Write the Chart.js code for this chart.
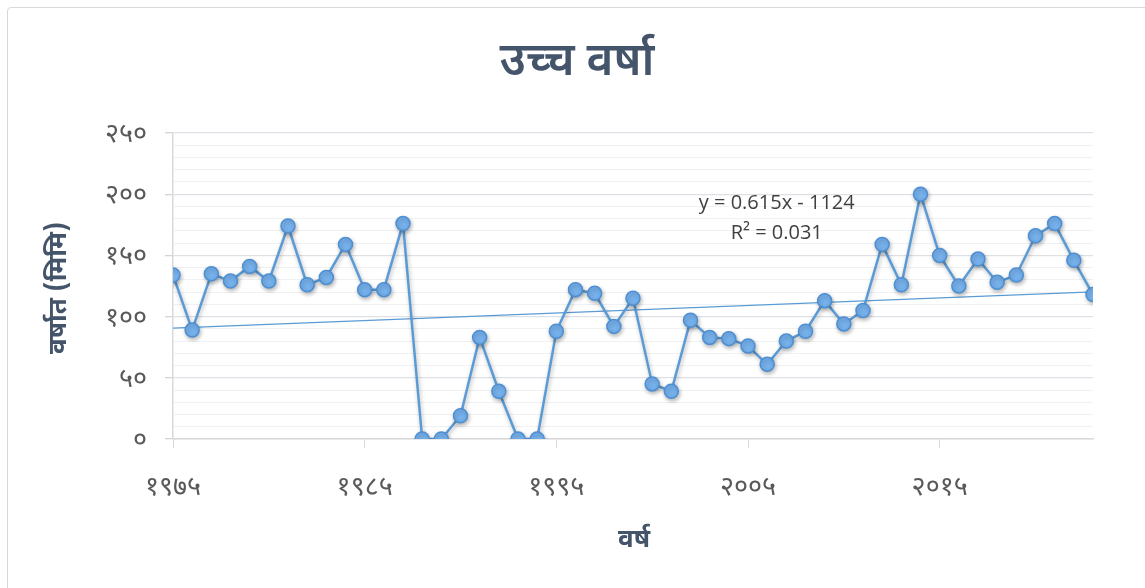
<!DOCTYPE html>
<html><head><meta charset="utf-8">
<script src="https://cdn.jsdelivr.net/npm/chart.js@4.4.1/dist/chart.umd.min.js"></script>
<style>
html,body{margin:0;padding:0;background:#fff;overflow:hidden}
#wrap{position:absolute;left:0;top:0;width:1145px;height:588px}
#frame{position:absolute;left:7px;top:7px;width:1160px;height:600px;border:1px solid #d9d9d9;border-radius:4px;box-sizing:border-box}
canvas{position:absolute;left:0;top:0}
</style></head>
<body><div id="wrap"><div id="frame"></div><canvas id="c" width="1145" height="588"></canvas></div>
<script>
const years = [1975,1976,1977,1978,1979,1980,1981,1982,1983,1984,1985,1986,1987,1988,1989,1990,1991,1992,1993,1994,1995,1996,1997,1998,1999,2000,2001,2002,2003,2004,2005,2006,2007,2008,2009,2010,2011,2012,2013,2014,2015,2016,2017,2018,2019,2020,2021,2022,2023];
const rainfall = [134,89,135,129,141,129,174,126,132,159,122,122,176,0,0,19,83,39,0,0,88,122,119,92,115,45,39,97,83,82,76,61,80,88,113,94,105,159,126,200,150,125,147,128,134,166,176,146,118];
const trendSlope = 0.615;
const trendIntercept = -1124;
const trendText = ["y = 0.615x - 1124", "R² = 0.031"];
const titleText = "उच्च वर्षा";
const yTitle = "वर्षात (मिमि)";
const xTitle = "वर्ष";
const xTickYears = [1975,1985,1995,2005,2015];
const yTicks = [0,50,100,150,200,250];

const devDigits = ['०','१','२','३','४','५','६','७','८','९'];
const toDev = n => String(n).split('').map(c => /[0-9]/.test(c) ? devDigits[+c] : c).join('');

const FONT = "'Noto Sans Devanagari','Noto Sans','Lohit Devanagari','FreeSans',sans-serif";
const pts = years.map((y,i)=>({x:y,y:rainfall[i]}));
const x0 = years[0], x1 = years[years.length-1];
const trend = [{x:x0,y:trendSlope*x0+trendIntercept},{x:x1,y:trendSlope*x1+trendIntercept}];

const decor = {
  id:'decor',
  beforeDatasetDraw(chart, args){
    if(args.index===0){ const c=chart.ctx; c.save(); c.shadowColor='rgba(0,0,0,0.28)'; c.shadowBlur=4; c.shadowOffsetX=1; c.shadowOffsetY=2; }
  },
  afterDatasetDraw(chart, args){ if(args.index===0) chart.ctx.restore(); },
  afterDraw(chart){
    const ctx = chart.ctx, xs = chart.scales.x, ys = chart.scales.y;
    ctx.save();
    ctx.fillStyle = '#44546A';
    ctx.textAlign='center'; ctx.textBaseline='middle';
    ctx.font = "600 46px " + FONT;
    ctx.fillText(titleText, 577, 66);
    ctx.font = "bold 26px " + FONT;
    ctx.fillText(xTitle, 634, 542);
    ctx.translate(61, 288); ctx.rotate(-Math.PI/2);
    ctx.fillText(yTitle, 0, 0);
    ctx.restore();
    ctx.save();
    ctx.fillStyle = '#404040';
    ctx.font = "20px 'Open Sans','Noto Sans',sans-serif";
    ctx.textAlign='center'; ctx.textBaseline='middle';
    const tx = xs.getPixelForValue(2006.5);
    ctx.fillText(trendText[0], tx, ys.getPixelForValue(192.5));
    ctx.fillText(trendText[1], tx, ys.getPixelForValue(168));
    ctx.restore();
  }
};

new Chart(document.getElementById('c'), {
  type:'scatter',
  data:{datasets:[
    {data:pts, showLine:true, borderColor:'#5b9bd5', borderWidth:2.5, pointRadius:7, pointHoverRadius:7,
     pointBackgroundColor:'#76b1ec', pointBorderColor:'#4d8fd3', pointBorderWidth:1.5, order:1},
    {data:trend, showLine:true, borderColor:'#5b9bd5', borderWidth:1.2, pointRadius:0, order:2}
  ]},
  options:{
    responsive:false, animation:false,
    layout:{padding:{left:0,right:52,top:133,bottom:0}},
    plugins:{legend:{display:false}, tooltip:{enabled:false}, title:{display:false}},
    scales:{
      x:{type:'linear', min:1975, max:2023,
        afterBuildTicks(s){ s.ticks = xTickYears.map(v=>({value:v})); },
        afterFit(s){ s.height = 149; },
        grid:{drawOnChartArea:false, drawTicks:true, tickLength:9, color:'#d9d9d9', tickColor:'#d9d9d9'},
        border:{color:'#d9d9d9', width:1.5},
        ticks:{padding:26, maxRotation:0, autoSkip:false, color:'#595959', font:{family:FONT, size:27}, callback:v=>toDev(v)}
      },
      y:{min:0, max:250,
        afterBuildTicks(s){ const t=[]; for(let v=0; v<=250; v+=10) t.push({value:v}); s.ticks=t; },
        afterFit(s){ s.width = 173; },
        grid:{tickLength:8,
          color:c=> c.tick.value%50===0 ? '#dde1e6' : '#f0f1f3',
          tickColor:c=> c.tick.value%50===0 ? '#d0d5db' : 'rgba(0,0,0,0)',
          lineWidth:c=> c.tick.value%50===0 ? 1.3 : 1},
        border:{color:'#d9d9d9', width:1.5},
        ticks:{padding:18, labelOffset:4, autoSkip:false, color:'#595959', font:{family:FONT, size:27},
          callback:v=> yTicks.includes(v) ? toDev(v) : ''}
      }
    }
  },
  plugins:[decor]
});
</script></body></html>
